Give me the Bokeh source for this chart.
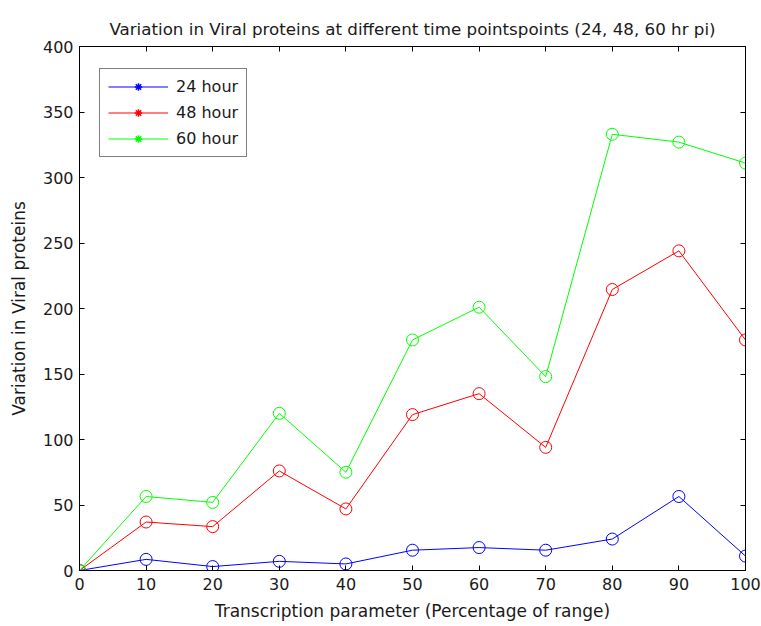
from bokeh.plotting import figure
from bokeh.models import Legend, LegendItem, LinearAxis, Range1d, FixedTicker, Title, CustomJSTickFormatter
from bokeh.embed import file_html
from bokeh.resources import INLINE

x = [0, 10, 20, 30, 40, 50, 60, 70, 80, 90, 100]
h24 = [0, 8.5, 3, 7, 5, 15.5, 17.5, 15.5, 24, 56.5, 11]
h48 = [0, 37, 33.5, 76, 47, 119, 135, 94, 214.5, 244, 176]
h60 = [0, 56.5, 52, 120, 75, 176, 201, 148, 333, 327, 311]
labels = ["24 hour", "48 hour", "60 hour"]
colors = ["#0000ff", "#ff0000", "#00ff00"]
xticks = [0, 10, 20, 30, 40, 50, 60, 70, 80, 90, 100]
yticks = [0, 50, 100, 150, 200, 250, 300, 350, 400]

FONT = "DejaVu Sans"
FS = "16px"
TXT = "#1a1a1a"

p = figure(width=761, height=626, output_backend="svg", toolbar_location=None,
           x_range=Range1d(0, 100), y_range=Range1d(0, 400),
           min_border_left=79, min_border_right=16, min_border_top=46, min_border_bottom=56,
           background_fill_color="white", border_fill_color="white")
p.grid.visible = False
p.outline_line_color = "black"
p.outline_line_width = 1

p.title = Title(text="Variation in Viral proteins at different time pointspoints (24, 48, 60 hr pi)",
                align="center", text_font=FONT, text_font_size="16.7px",
                text_font_style="normal", text_color=TXT, standoff=15)

for ax in (p.xaxis[0], p.yaxis[0]):
    ax.major_tick_in = 5
    ax.major_tick_out = 0
    ax.minor_tick_line_color = None
    ax.major_label_text_font = FONT
    ax.major_label_text_font_size = FS
    ax.major_label_text_color = TXT
    ax.axis_label_text_font = FONT
    ax.axis_label_text_font_size = "17px"
    ax.axis_label_text_font_style = "normal"
    ax.axis_label_text_color = TXT
    ax.axis_line_color = "black"
    ax.major_tick_line_color = "black"

p.xaxis[0].ticker = FixedTicker(ticks=xticks)
p.yaxis[0].ticker = FixedTicker(ticks=yticks)
p.xaxis[0].axis_label = "Transcription parameter (Percentage of range)"
p.yaxis[0].axis_label = "Variation in Viral proteins"
p.xaxis[0].major_label_standoff = 7
p.yaxis[0].major_label_standoff = 6
p.xaxis[0].axis_label_standoff = 8
p.yaxis[0].axis_label_standoff = 11

for loc, tick in (("right", yticks), ("above", xticks)):
    ax = LinearAxis(ticker=FixedTicker(ticks=tick), major_tick_in=5, major_tick_out=0,
                    minor_tick_line_color=None, major_label_text_font_size="1px",
                    formatter=CustomJSTickFormatter(code="return ''"),
                    major_label_standoff=0, axis_line_color="black")
    p.add_layout(ax, loc)

nan = float("nan")
items = []
for ys, lab, c in zip((h24, h48, h60), labels, colors):
    p.line(x, ys, line_color=c, line_width=1)
    p.scatter(x, ys, marker="circle", size=12, fill_color=None, line_color=c, line_width=1)
    lr = p.line([nan], [nan], line_color=c, line_width=1)
    sr = p.scatter([nan], [nan], marker="asterisk", size=10, line_color=c, line_width=1.5)
    items.append(LegendItem(label=lab, renderers=[lr, sr]))

legend = Legend(items=items, location=(20, 413), margin=0, padding=8, spacing=7,
                glyph_width=60, glyph_height=19, label_height=19, label_standoff=8,
                label_text_font=FONT, label_text_font_size=FS, label_text_color=TXT,
                border_line_color="black", border_line_width=1, background_fill_alpha=1)
p.add_layout(legend)

open("out.html", "w").write(file_html(p, INLINE))
